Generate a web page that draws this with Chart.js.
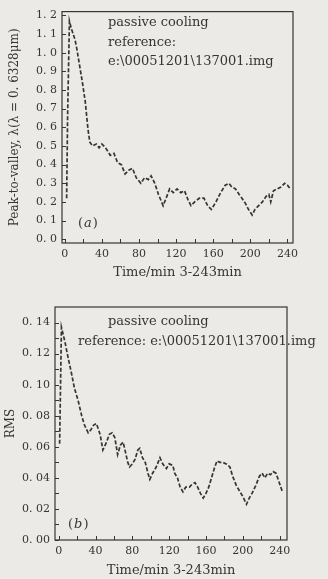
<!DOCTYPE html>
<html>
<head>
<meta charset="utf-8">
<script src="https://cdn.jsdelivr.net/npm/chart.js@4"></script>
<style>
  html, body { margin: 0; padding: 0; background: #ebeae6; }
  body { width: 328px; height: 579px; position: relative; overflow: hidden; }
  canvas { position: absolute; left: 0; }
  #chartA { top: 0; }
  #chartB { top: 285px; }
</style>
</head>
<body>
<canvas id="chartA" width="328" height="285"></canvas>
<canvas id="chartB" width="328" height="294"></canvas>
<script>
// (a) peak-to-valley vs time
const timesA = [2, 3, 5, 7, 9, 11, 13, 16, 19, 22, 25, 27, 30, 34, 37, 40, 44, 49, 53, 57, 61, 65, 69, 73, 77, 82, 86, 90, 93, 97,
    101, 106, 110, 113, 117, 121, 125, 129, 133, 136, 140, 145, 150, 154, 158, 163, 168, 173, 177, 180, 184, 188, 191, 195, 198,
    202, 205, 209, 213, 217, 220, 222, 225, 229, 233, 237, 240, 243];
const pvValues = [0.22, 0.65, 1.17, 1.13, 1.10, 1.07, 1.02, 0.93, 0.84, 0.74, 0.59, 0.52, 0.50, 0.51, 0.49, 0.51, 0.49, 0.45, 0.46, 0.41,
    0.40, 0.35, 0.37, 0.38, 0.33, 0.30, 0.33, 0.32, 0.34, 0.30, 0.24, 0.18, 0.23, 0.27, 0.25, 0.27, 0.25, 0.26, 0.21, 0.18,
    0.20, 0.22, 0.22, 0.18, 0.16, 0.20, 0.25, 0.29, 0.30, 0.28, 0.27, 0.24, 0.22, 0.19, 0.16, 0.13, 0.16, 0.18, 0.20, 0.23,
    0.24, 0.20, 0.26, 0.27, 0.28, 0.30, 0.29, 0.27];

// (b) RMS vs time
const timesB = [1, 3, 5, 7, 10, 14, 17, 21, 25, 28, 32, 35, 38, 41, 45, 48, 52, 55, 58, 61, 64, 67, 70, 72, 75, 77, 80, 83, 86, 88,
    91, 94, 97, 99, 102, 106, 110, 113, 117, 120, 124, 126, 129, 132, 135, 138, 142, 145, 148, 151, 154, 157, 160, 163, 166,
    169, 172, 175, 178, 182, 186, 189, 193, 196, 200, 204, 207, 210, 214, 218, 221, 224, 227, 230, 233, 236, 239, 243];
const rmsValues = [0.062, 0.137, 0.132, 0.127, 0.118, 0.107, 0.098, 0.090, 0.080, 0.074, 0.069, 0.071, 0.074, 0.075, 0.068, 0.058,
    0.063, 0.068, 0.069, 0.066, 0.055, 0.061, 0.063, 0.058, 0.050, 0.047, 0.049, 0.052, 0.058, 0.059, 0.053, 0.050, 0.043,
    0.039, 0.043, 0.047, 0.053, 0.049, 0.046, 0.049, 0.048, 0.043, 0.040, 0.034, 0.031, 0.034, 0.034, 0.036, 0.037, 0.034,
    0.030, 0.027, 0.030, 0.034, 0.040, 0.046, 0.051, 0.050, 0.050, 0.049, 0.047, 0.041, 0.035, 0.032, 0.028, 0.023, 0.027,
    0.030, 0.035, 0.041, 0.043, 0.040, 0.043, 0.042, 0.044, 0.043, 0.038, 0.031];

// tick values
const xTickValues = [0, 40, 80, 120, 160, 200, 240];
const xMinorTicks = [0, 20, 40, 60, 80, 100, 120, 140, 160, 180, 200, 220, 240];
const pvTickValues = [0.0, 0.1, 0.2, 0.3, 0.4, 0.5, 0.6, 0.7, 0.8, 0.9, 1.0, 1.1, 1.2];
const rmsTickValues = [0.00, 0.02, 0.04, 0.06, 0.08, 0.10, 0.12, 0.14];
const rmsMinorTicks = [0.00, 0.01, 0.02, 0.03, 0.04, 0.05, 0.06, 0.07, 0.08, 0.09, 0.10, 0.11, 0.12, 0.13, 0.14];

const ink = '#353535';
const serif = "'DejaVu Serif', 'Liberation Serif', serif";

function toPoints(xs, ys) {
    return xs.map((x, i) => ({ x: x, y: ys[i] }));
}

// dotted style decimals like "0. 14"
function fmt(v, digits) {
    return v.toFixed(digits).replace('.', '. ');
}

// ticks pointing into the plot + box frame
const frameTicks = {
    id: 'frameTicks',
    afterDatasetsDraw(chart, args, opts) {
        const { ctx, chartArea: a, scales: { x, y } } = chart;
        ctx.save();
        ctx.strokeStyle = ink;
        ctx.lineWidth = 1.2;
        ctx.strokeRect(a.left, a.top, a.width, a.height);
        ctx.lineWidth = 1;
        ctx.beginPath();
        opts.xTicks.forEach(v => {
            const px = Math.round(x.getPixelForValue(v)) + 0.5;
            ctx.moveTo(px, a.bottom);
            ctx.lineTo(px, a.bottom - 4);
        });
        opts.yTicks.forEach(v => {
            const py = Math.round(y.getPixelForValue(v)) + 0.5;
            ctx.moveTo(a.left, py);
            ctx.lineTo(a.left + 4, py);
        });
        ctx.stroke();
        ctx.restore();
    }
};

// text notes inside the plot
const notes = {
    id: 'notes',
    afterDraw(chart, args, opts) {
        const ctx = chart.ctx;
        ctx.save();
        ctx.fillStyle = ink;
        ctx.textBaseline = 'middle';
        ctx.font = '13px ' + serif;
        opts.lines.forEach(l => ctx.fillText(l.text, l.x, l.y));
        // panel tag with italic letter
        const t = opts.tag;
        let px = t.x;
        ctx.fillText('(', px, t.y);
        px += ctx.measureText('(').width + 1;
        ctx.font = 'italic 13px ' + serif;
        ctx.fillText(t.letter, px, t.y);
        px += ctx.measureText(t.letter).width + 1;
        ctx.font = '13px ' + serif;
        ctx.fillText(')', px, t.y);
        ctx.restore();
    }
};

function makeChart(id, cfg) {
    return new Chart(document.getElementById(id), {
        type: 'line',
        data: {
            datasets: [{
                data: cfg.points,
                borderColor: ink,
                borderWidth: 1.7,
                borderDash: [4, 2],
                pointRadius: 0,
                tension: 0,
                fill: false
            }]
        },
        options: {
            responsive: false,
            animation: false,
            layout: { padding: cfg.padding },
            plugins: {
                legend: { display: false },
                tooltip: { enabled: false },
                frameTicks: { xTicks: xMinorTicks, yTicks: cfg.yMinor },
                notes: { lines: cfg.lines, tag: cfg.tag }
            },
            scales: {
                x: {
                    type: 'linear',
                    min: cfg.xMin,
                    max: cfg.xMax,
                    afterBuildTicks: s => { s.ticks = xTickValues.map(v => ({ value: v })); },
                    afterFit: s => { s.height = cfg.xHeight; },
                    grid: { display: false, drawTicks: false },
                    border: { display: false },
                    ticks: {
                        color: ink,
                        font: { family: serif, size: 11 },
                        padding: 5,
                        maxRotation: 0,
                        autoSkip: false
                    },
                    title: {
                        display: true,
                        text: 'Time/min 3-243min',
                        color: ink,
                        font: { family: serif, size: 13 },
                        padding: { top: 0, bottom: cfg.xTitlePad }
                    }
                },
                y: {
                    type: 'linear',
                    min: cfg.yMin,
                    max: cfg.yMax,
                    afterBuildTicks: s => { s.ticks = cfg.yTicks.map(v => ({ value: v })); },
                    afterFit: s => { s.width = cfg.yWidth; },
                    grid: { display: false, drawTicks: false },
                    border: { display: false },
                    ticks: {
                        color: ink,
                        font: { family: serif, size: 11 },
                        padding: 5,
                        autoSkip: false,
                        callback: v => fmt(v, cfg.digits)
                    },
                    title: {
                        display: true,
                        text: cfg.yTitle,
                        color: ink,
                        font: { family: serif, size: 12 },
                        padding: { top: cfg.yTitlePad, bottom: 0 }
                    }
                }
            }
        },
        plugins: [frameTicks, notes]
    });
}

makeChart('chartA', {
    points: toPoints(timesA, pvValues),
    padding: { top: 10, right: 35, left: 0, bottom: 0 },
    xMin: -3, xMax: 246,
    yMin: -0.02, yMax: 1.22,
    xHeight: 42, yWidth: 62,
    xTitlePad: 5, yTitlePad: 8,
    yTicks: pvTickValues, yMinor: pvTickValues, digits: 1,
    yTitle: 'Peak-to-valley, λ(λ = 0. 6328μm)',
    lines: [
        { text: 'passive cooling', x: 108, y: 23 },
        { text: 'reference:', x: 108, y: 43 },
        { text: 'e:\\00051201\\137001.img', x: 108, y: 62 }
    ],
    tag: { letter: 'a', x: 78, y: 224 }
});

makeChart('chartB', {
    points: toPoints(timesB, rmsValues),
    padding: { top: 22, right: 41, left: 0, bottom: 0 },
    xMin: -4, xMax: 248,
    yMin: 0, yMax: 0.15,
    xHeight: 39, yWidth: 55,
    xTitlePad: 1, yTitlePad: 4,
    yTicks: rmsTickValues, yMinor: rmsMinorTicks, digits: 2,
    yTitle: 'RMS',
    lines: [
        { text: 'passive cooling', x: 108, y: 37 },
        { text: 'reference: e:\\00051201\\137001.img', x: 78, y: 57 }
    ],
    tag: { letter: 'b', x: 68, y: 240 }
});
</script>
</body>
</html>
